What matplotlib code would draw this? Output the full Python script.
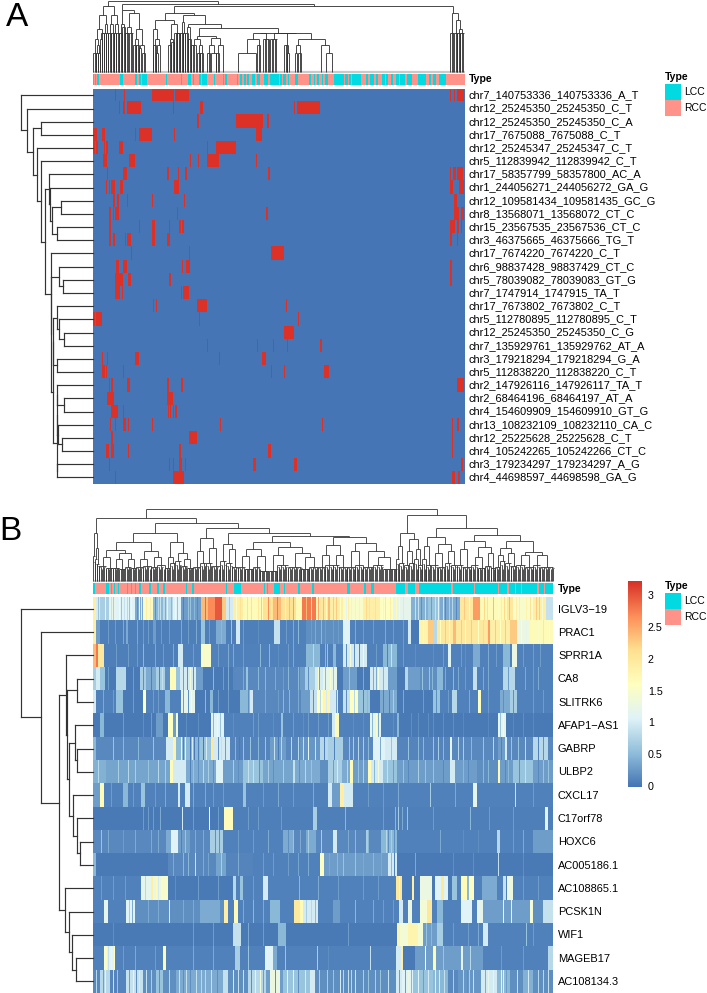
import numpy as np
import matplotlib
matplotlib.use("Agg")
import matplotlib.pyplot as plt
from matplotlib.collections import LineCollection
from matplotlib.colors import LinearSegmentedColormap, ListedColormap
from matplotlib.patches import Rectangle

plt.rcParams['font.family'] = ['Liberation Sans', 'DejaVu Sans']
W, H = 707, 993
TEAL, SALMON = '#00DAE0', '#FF9289'
BLUE, RED = '#4575B4', '#DC3127'

# ---------- panel A data ----------
labels_a = ["chr7_140753336_140753336_A_T", "chr12_25245350_25245350_C_T", "chr12_25245350_25245350_C_A",
            "chr17_7675088_7675088_C_T", "chr12_25245347_25245347_C_T", "chr5_112839942_112839942_C_T",
            "chr17_58357799_58357800_AC_A", "chr1_244056271_244056272_GA_G", "chr12_109581434_109581435_GC_G",
            "chr8_13568071_13568072_CT_C", "chr15_23567535_23567536_CT_C", "chr3_46375665_46375666_TG_T",
            "chr17_7674220_7674220_C_T", "chr6_98837428_98837429_CT_C", "chr5_78039082_78039083_GT_G",
            "chr7_1747914_1747915_TA_T", "chr17_7673802_7673802_C_T", "chr5_112780895_112780895_C_T",
            "chr12_25245350_25245350_C_G", "chr7_135929761_135929762_AT_A", "chr3_179218294_179218294_G_A",
            "chr5_112838220_112838220_C_T", "chr2_147926116_147926117_TA_T", "chr2_68464196_68464197_AT_A",
            "chr4_154609909_154609910_GT_G", "chr13_108232109_108232110_CA_C", "chr12_25225628_25225628_C_T",
            "chr4_105242265_105242266_CT_C", "chr3_179234297_179234297_A_G", "chr4_44698597_44698598_GA_G"]
mutated_a = [
    [(22,23),(31,32),(59,81),(82,96),(357,358),(361,362),(364,371)],
    [(26,27),(30,32),(34,48),(80,81),(107,110),(201,202),(204,227)],
    [(104,106),(143,170),(174,176)],
    [(0,4),(9,12),(42,43),(46,59),(81,82),(163,169)],
    [(0,2),(3,5),(11,12),(13,15),(26,30),(114,115),(123,143)],
    [(10,14),(36,42),(97,98),(105,106),(114,126),(163,164)],
    [(14,15),(30,34),(74,76),(85,86),(92,94),(175,177),(357,358),(360,363),(364,370)],
    [(13,14),(16,17),(18,22),(27,30),(81,86),(357,360),(366,371)],
    [(20,22),(24,26),(34,35),(59,60),(91,92),(361,364)],
    [(16,18),(20,21),(22,26),(84,85),(173,175),(361,366),(368,371)],
    [(16,18),(46,47),(59,62),(76,77),(86,88),(89,91),(357,362),(364,366),(368,369)],
    [(16,18),(20,22),(32,33),(34,38),(59,62),(74,77),(357,359),(364,365)],
    [(38,39),(96,97),(178,191)],
    [(23,26),(30,34),(89,90),(93,97),(357,359)],
    [(22,30),(35,38),(76,78),(357,359)],
    [(22,27),(29,30),(88,89),(90,96)],
    [(60,61),(63,64),(104,114),(193,194)],
    [(0,2),(3,9),(106,107),(205,206)],
    [(191,201)],
    [(114,115),(164,165),(180,181),(194,195),(227,229)],
    [(9,10),(14,15),(42,46),(126,127),(169,173)],
    [(9,12),(13,14),(30,31),(178,179),(191,192),(231,236)],
    [(16,17),(18,20),(34,37),(74,76),(88,90),(364,371)],
    [(14,21),(74,80)],
    [(18,25),(30,31),(75,76),(77,78),(80,81),(82,84)],
    [(17,18),(22,23),(30,33),(35,36),(59,60),(127,128),(229,230),(359,360),(364,366)],
    [(18,20),(96,104),(359,360)],
    [(13,16),(18,21),(35,36),(86,88),(175,178),(359,360)],
    [(16,17),(76,77),(80,81),(86,89),(92,93),(160,163),(201,204),(368,370)],
    [(22,23),(80,91),(359,362),(365,367)],
]
lcc_a = [(0,1),(2,3),(4,6),(27,30),(42,44),(46,48),(49,54),(73,74),(88,89),(95,97),(97,98),(100,101),(106,108),
         (109,114),(121,122),(130,131),(132,134),(144,145),(147,149),(151,153),(154,156),(159,162),(164,167),
         (171,175),(177,186),(187,189),(190,193),(195,196),(202,205),(216,218),(221,222),(224,226),(229,230),
         (232,235),(241,247),(247,251),(252,255),(256,258),(259,268),(273,275),(277,281),(283,285),(289,292),
         (293,295),(298,300),(303,306),(307,312),(314,319),(325,333),(336,338),(340,343),(346,353)]
# trees: (height, left, right[, position]); leaf = int; [first, last, height] = comb of leaves
row_tree_a = (72, 0, (66, 1, (60.6, (52.6, 2, 3), (56, 4, (52.3, 5, (48.3,
    (43.8, 6, (43.3, 7, (41.6, (32.3, 8, 9), (36, 10, 11)))),
    (42.6, 12, (42.3, (34, 13, (30, 14, 15)),
        (40.6, (40.3, (36, 16, (34, 17, (29, 18, 19))), (36, 20, 21)),
               (36.3, (36.2, (36.6, 22, (29, 23, 24)), (35, 25, (31.3, 26, 27))), (36.6, 28, 29)))))))))))
col_tree_a = (71,
    (65.6,
        (56.6, (43, (33, [0,3,19.3], (26.6,[3,5,19.3],[5,7,19.3])), (39.3,[7,9,33],[9,11,39.3])),
               (48, [11,13,39.3], [13,15,39.3])),
        (56.6, (48, [15,18,39.3], [18,21,39.3]), (48, [21,23,39.3], [23,26,39.3]))),
    (67.6,
        (62.3, (48, [26,29,39.3], [29,32,45]),
               (59, (45,[32,36,39.3],[36,40,39.3]),
                    (43, (33,[40,43,26.6],[43,46,26.6]), (26.6,[46,48,24],[49,52,19.3]))), 29),
        (65.6,
            (59,
                (52, (43, 60, (33,[60,63,26.6],(26.6,[63,65,19.3],67))),
                     (48, (33,[75,78,26.6],[78,81,30]), (39.3,[81,84,39.3],[84,87,39.3]))),
                (56.6, (50,[87,90,39.3],[90,92,39.3]),
                    (48, (45,[92,95,39.3],[95,98,33]),
                        (44,
                            (36, (33,[98,103,26.6],(26.6,[104,107,19.3],[107,110,19.3])),
                                 (34,(26.6,[114,117,19.3],(19.3,118,123)),(26.6,[123,126,19.3],130)), 106),
                            (39.3,
                                (39.3,(33,(19.3,145,163),[164,167,26.6]),[170,176,33]),
                                (39.3,(39,[177,184,33],(26.6,[191,194,26.6],[194,196,19.3])),
                                      (33,(26.6,[202,204,19.3],[205,208,19.3]),(26.6,228,(19.3,233,239))))),
                            128))), 81),
            (59, [357,361,39.3], (52, [361,364,39.3], (43, [364,367,39.3], [367,371,39.3])), 360))))

# ---------- panel B data ----------
labels_b = ["IGLV3\u221219", "PRAC1", "SPRR1A", "CA8", "SLITRK6", "AFAP1\u2212AS1", "GABRP", "ULBP2", "CXCL17",
            "C17orf78", "HOXC6", "AC005186.1", "AC108865.1", "PCSK1N", "WIF1", "MAGEB17", "AC108134.3"]
lcc_b = [(0,2),(13,16),(18,19),(21,22),(25,26),(34,35),(38,39),(42,43),(46,48),(56,58),(64,66),(70,72),(93,94),
         (99,101),(133,134),(141,148),(171,172),(174,175),(181,187),(191,192),(205,207),(219,221),(254,257),
         (271,273),(278,281),(303,312),(315,322),(326,358),(360,381),(382,405),(406,414),(416,422),(423,428),
         (429,444),(446,451),(452,460)]
runs_b = [
 [(0,1.9),(3,1.0),(7,.7),(16,1.2),(23,1.1),(42,.4),(50,1.5),(60,.5),(70,.8),(80,1.1),(88,.3),(108,2.4),(115,2.7),(122,3.0),(129,2.3),(133,1.0),(140,1.9),(150,1.7),(170,2.1),(180,2.4),(188,2.1),(203,1.7),(209,2.8),(223,1.8),(227,2.0),(235,2.4),(237,1.9),(250,1.5),(270,1.9),(287,1.6),(300,1.2),(318,.45),(335,.6),(347,.4),(367,2.0),(380,2.6),(387,1.7),(414,2.0),(420,1.5),(440,1.9),(453,.9)],
 [(0,1.9),(3,.3),(7,.08),(33,.4),(35,.08),(60,.3),(63,.08),(108,.6),(112,.08),(123,.4),(133,.08),(143,1.0),(147,.08),(181,.9),(187,.1),(213,.2),(250,1.1),(257,.1),(315,1.0),(318,.05),(326,1.8),(335,2.3),(340,.8),(344,2.0),(360,2.4),(363,2.0),(395,2.6),(397,1.9),(417,2.3),(424,1.3),(437,1.7)],
 [(0,2.4),(3,2.8),(5,2.0),(11,.08),(85,1.0),(90,.1),(108,1.5),(118,.1),(213,.5),(227,.1),(240,.5),(243,.1),(250,1.0),(274,.1),(290,.5),(304,.1),(355,1.1),(358,.1),(380,.4),(387,.1),(410,.5),(417,.1),(419,1.3),(424,.1)],
 [(0,.7),(3,1),(7,.6),(12,.05),(23,.8),(33,.05),(47,.7),(53,.4),(63,.7),(72,.2),(77,1.7),(83,.6),(87,1.0),(103,.3),(110,.05),(140,.15),(153,.6),(155,.15),(207,.3),(212,.7),(222,1),(230,1.2),(244,.05),(250,.3),(264,.05),(277,1),(295,.3),(304,.05),(312,.8),(315,.3),(327,.2),(344,.5),(350,.1),(380,.9),(384,.1),(410,.8),(422,.1)],
 [(0,1),(3,.1),(23,.6),(30,.05),(50,1.6),(53,.1),(72,.5),(77,.1),(88,1.2),(102,.05),(117,.5),(120,.05),(147,.5),(157,1),(160,.15),(208,.3),(217,.9),(224,1.6),(230,1.8),(237,1),(245,.1),(250,.9),(257,1.6),(265,.6),(277,.05),(287,.4),(304,.05),(340,.6),(347,.1),(359,.8),(364,.1),(385,1.6),(388,.1),(407,.4),(417,.7),(424,.1)],
 [(0,.05),(7,.5),(11,.05),(63,.3),(70,.05),(75,1.6),(80,.3),(83,1.4),(85,.05),(118,1.1),(131,.1),(188,.6),(190,.1),(239,1),(242,1.7),(246,.1),(277,1.2),(288,.1),(304,.5),(306,.05),(405,1.2),(413,.05)],
 [(0,.5),(3,.15),(73,1),(80,1.8),(83,.5),(107,.6),(118,2.0),(120,1),(137,.12),(177,.3),(193,.15),(207,.25),(227,.8),(235,.7),(250,.15),(280,1.1),(292,1),(304,.12),(357,1.2),(359,.15),(405,.3),(412,1.0),(414,.15),(440,.8),(455,.15)],
 [(0,.45),(13,.35),(77,1.7),(80,1),(93,.4),(123,1.1),(130,.3),(150,.6),(170,.35),(200,.9),(202,.4),(227,.2),(235,.7),(249,.4),(257,1.7),(260,.3),(275,1.7),(278,1),(290,.6),(304,.3),(357,1),(362,.3),(384,.2),(405,1.7),(407,.3),(420,.6),(440,.3)],
 [(0,.3),(7,1.7),(11,.1),(30,.5),(35,.1),(48,.6),(52,.1),(85,1),(87,.1),(92,1),(97,.1),(150,.6),(153,.1),(235,1),(239,.3),(247,1.9),(251,1),(260,.1),(380,1.2),(384,.1)],
 [(0,.05),(131,1.7),(140,.08),(220,.7),(224,.08),(452,1.1),(455,.08)],
 [(0,.15),(73,.4),(78,1.1),(85,.3),(97,.15),(117,.7),(130,.1),(190,.4),(200,.15),(213,.4),(223,.15),(240,1),(244,.15),(273,.7),(276,.15),(288,.5),(304,.1),(404,.8),(407,.1),(440,.3)],
 [(0,.5),(3,.05),(75,.15),(123,.35),(133,.12),(160,.1),(227,1.6),(231,.3),(295,1),(304,.05)],
 [(0,.1),(48,1.2),(58,1.9),(60,1.3),(68,1.5),(75,.05),(140,.8),(143,.1),(147,.6),(150,.1),(170,1),(175,.1),(303,2),(309,.05),(319,1.9),(321,.05),(327,1.3),(339,.05),(342,1.1),(348,2),(351,1.1),(355,.05),(359,.6),(364,.1),(368,1.7),(374,.5),(376,1.6),(381,.1),(389,.4),(404,.1),(410,.9),(413,.1),(414,1.3),(420,.1)],
 [(0,.1),(11,1.2),(15,.1),(33,1.1),(42,.2),(107,.4),(127,.2),(131,1.9),(135,.1),(141,1.7),(145,.1),(177,.5),(187,.1),(201,2),(207,1.7),(210,1),(225,.1),(240,.3),(247,.1),(306,1),(310,.1),(315,1.3),(319,.1),(327,1.4),(334,2),(339,.1),(344,.5),(350,.1),(368,1.1),(379,.1),(384,1.2),(390,.3),(437,1.4),(440,.2),(450,.9)],
 [(0,.05),(140,.9),(148,.05),(185,.5),(193,.05),(304,1.8),(307,1.4),(315,1.8),(325,1.4),(330,.3),(344,.7),(350,.1),(390,1),(395,.1)],
 [(0,.1),(11,1.5),(14,1.1),(21,1.6),(22,.1),(70,1.7),(73,.1),(142,.7),(147,.1),(172,1.8),(173,1.1),(180,.4),(184,.1),(303,1),(308,1.9),(310,.05),(322,.3),(332,1.6),(333,.3),(340,1.7),(343,.3),(368,1.2),(370,.3),(390,.1),(455,.8)],
 [(0,.15),(7,.8),(17,.12),(33,.9),(50,.2),(63,.6),(70,.2),(83,.4),(130,.9),(135,.2),(155,.8),(173,.3),(177,1.3),(187,.3),(190,.6),(217,1),(222,.2),(303,1),(309,1.1),(320,.6),(340,.5),(355,.15),(365,.25),(388,1),(404,.5),(417,.2),(430,.45),(440,.2)],
]
stripes_b = [
 [(5,.6),(12,1.2),(18,.9),(20,.7),(26,1.5),(28,.6),(31,.9),(34,.8),(36,.6),(38,1.5),(44,.2),(46,1.2),(48,1),(53,1.9),(57,1.9),(62,.2),(65,.8),(67,.9),(72,.4),(74,1.2),(78,.5),(82,1.4),(84,.6),(90,.1),(95,.6),(97,.6),(101,.5),(104,.15),(112,2.9),(136,.7),(143,1.5),(147,2.1),(154,2.1),(158,2.1),(162,1.5),(165,2.0),(168,2.3),(175,2.7),(178,2.0),(184,2.8),(192,1.8),(196,2.4),(200,2.6),(206,1.4),(213,2.4),(218,2.2),(225,2.5),(230,2.4),(233,1.7),(240,2.3),(243,2.3),(247,1.6),(253,1.2),(255,1.9),(258,1.8),(262,1.8),(266,1.2),(273,2.2),(276,2.1),(282,2.1),(290,1.3),(292,2.0),(297,1.9),(303,1.7),(306,1.7),(310,1.0),(322,.9),(325,.9),(328,.2),(332,.9),(338,.3),(342,.9),(345,1.1),(350,.9),(352,.15),(356,.7),(359,.8),(363,.15),(371,2.3),(376,1.7),(391,2.2),(394,2.1),(400,2.4),(405,1.6),(408,1.9),(411,2.2),(416,2.4),(423,1.9),(426,1.9),(433,1.8),(437,2.1),(443,2.3),(446,2.3),(449,1.4)],
 [(15,.3),(22,.3),(30,.4),(44,.4),(50,.3),(55,.3),(68,.3),(76,.3),(88,.4),(95,.3),(103,.4),(116,.3),(128,.5),(138,.6),(150,.3),(165,.2),(193,.3),(200,.4),(205,.5),(218,.3),(222,.4),(228,.5),(232,.3),(240,.3),(245,.3),(262,.4),(270,.3),(280,.3),(292,.4),(300,.3),(310,.3),(330,1.7),(347,1.6),(352,2.3),(356,1.7),(368,2.3),(372,1.7),(378,2.3),(385,1.6),(390,2.2),(402,2.3),(407,1.6),(412,2.3),(428,1.6),(433,1.2),(445,1.5),(450,2.0),(456,1.6)],
 [(23,.3),(35,.3),(44,.3),(50,.5),(62,.4),(70,.3),(80,.4),(100,.3),(125,.3),(135,.4),(140,.4),(150,.3),(167,.5),(176,.5),(185,.2),(195,.3),(200,.4),(220,.8),(232,.5),(234,.6),(253,.2),(257,1.4),(261,.2),(266,.1),(270,1.5),(283,.3),(294,.1),(298,.9),(310,.3),(322,.2),(340,.2),(350,.3),(368,.3),(372,.2),(395,.4),(403,.3),(430,.3),(440,.3),(447,.3)],
 [(15,.3),(40,.3),(50,.2),(58,.1),(66,.1),(69,.9),(90,.3),(94,.2),(97,1.4),(100,.2),(120,.5),(130,.3),(135,.4),(150,.4),(165,.5),(172,.5),(182,.4),(190,.3),(195,.5),(205,.5),(215,.2),(225,1.5),(226,.3),(232,.5),(237,1.5),(240,.6),(256,.6),(270,.4),(280,.4),(283,.4),(285,1.4),(290,.5),(329,.6),(336,.6),(339,.5),(352,.4),(360,.5),(365,.4),(372,.3),(390,.4),(395,.4),(415,.3),(432,.4),(440,.3),(445,.4)],
 [(10,.4),(20,.3),(40,.3),(60,.3),(65,.3),(90,.3),(95,.2),(98,1.6),(112,.5),(125,.3),(135,.3),(155,.2),(172,.4),(185,.3),(190,.5),(196,.5),(205,.4),(220,.2),(227,.8),(233,1.0),(243,.3),(253,.2),(261,.8),(270,.1),(274,.5),(290,.1),(296,.1),(300,.7),(310,.4),(330,.3),(343,.2),(355,.3),(376,.4),(395,.3),(410,.2),(420,.2),(440,.3),(450,.3)],
 [(30,.3),(50,.2),(58,.3),(93,.2),(105,.2),(120,.5),(124,1.4),(127,.6),(140,.2),(160,.3),(165,.3),(180,.2),(200,.3),(210,.2),(215,.3),(225,.3),(235,.3),(260,.2),(270,.2),(279,.5),(283,1.5),(285,.4),(300,.2),(318,.2),(325,.2),(335,.2),(340,.2),(350,.2),(360,.2),(370,.15),(395,.15),(407,.6),(410,1.5),(420,.15),(430,.2),(440,.15)],
 [(20,.6),(30,.5),(45,.5),(60,.6),(88,1.3),(90,.1),(92,1.1),(97,.05),(99,1.0),(101,.05),(105,.1),(110,.05),(113,1.0),(125,.2),(128,.9),(132,.3),(142,.5),(146,.05),(150,.6),(157,.6),(165,.5),(172,.6),(181,.9),(185,.05),(188,.8),(198,.8),(205,.8),(210,.9),(215,1.2),(222,.9),(231,.1),(241,.1),(256,.6),(260,.7),(265,.8),(270,.7),(275,.5),(287,.4),(298,.6),(315,.6),(325,.5),(330,.5),(340,.6),(345,.7),(350,.5),(365,.8),(370,.7),(378,.5),(390,.6),(400,.8),(408,.1),(418,.6),(425,.6),(432,.8),(445,.1),(450,.2)],
 [(5,.8),(25,.7),(35,.8),(42,.7),(55,.6),(65,.8),(72,.7),(97,.1),(100,.6),(105,.2),(110,.8),(115,.7),(120,.2),(140,.7),(145,.2),(155,.9),(160,.9),(166,.2),(175,.7),(180,.2),(190,.7),(206,.2),(212,.8),(218,.6),(240,.3),(244,1),(254,.8),(265,.6),(270,.7),(281,.5),(285,1.4),(294,.9),(300,.3),(310,.6),(315,.15),(325,.7),(332,.6),(340,.6),(350,.15),(370,.5),(375,.15),(390,.5),(395,.5),(412,.15),(415,.5),(426,.2),(432,.9),(445,.15),(450,.6),(455,.6)],
 [(18,.3),(40,.3),(62,.3),(72,.4),(100,.4),(112,.4),(120,.3),(130,.3),(170,.3),(185,.4),(200,.3),(220,.4),(275,.3),(290,.3),(305,.4),(337,.7),(362,.4),(422,.9),(440,.3)],
 [(50,.3),(55,.3),(60,.3),(67,.4),(89,1),(100,.3),(116,1.4),(125,.3),(155,.3),(165,.3),(188,.3),(252,.5),(290,.3),(302,.5),(305,.7),(309,.4),(314,.6),(340,.3),(377,.5),(396,.3),(420,.3)],
 [(8,.6),(15,.4),(30,.3),(42,.4),(58,.4),(65,.4),(88,.1),(92,.6),(102,.4),(110,.4),(122,.2),(126,.2),(145,.3),(160,.3),(175,.4),(195,.2),(200,.6),(207,.4),(215,.7),(228,.7),(255,.4),(262,.5),(275,.5),(293,.8),(295,.2),(298,.7),(301,.2),(347,.4),(370,.2),(385,.2),(420,.3),(430,.4)],
 [(80,.4),(90,.5),(95,.5),(102,.9),(110,.4),(115,.35),(128,.7),(145,.4),(170,.3),(180,.3),(195,.3),(205,.35),(215,.4),(236,.4),(244,.5),(250,.6),(262,.6),(270,.4),(280,.5),(288,.4),(298,.5),(301,.1),(322,.4),(360,.2),(380,.2),(405,.9),(430,.2)],
 [(8,.3),(20,.3),(32,.3),(52,.8),(63,1.7),(65,1.0),(82,.2),(105,.3),(125,.3),(160,.3),(206,.5),(225,.4),(245,.3),(270,.3),(285,.3),(306,1.5),(430,.3),(445,.3)],
 [(36,.7),(39,.4),(55,.4),(65,.4),(76,1),(90,.4),(100,.4),(150,.4),(160,.5),(170,.4),(213,.7),(218,.8),(222,.5),(262,.5),(280,.4),(290,.3),(300,.3),(410,1.3),(418,1.1),(425,.3)],
 [(20,.2),(100,.3),(120,.3),(155,.4),(170,.3),(255,.3),(333,.6),(338,.5),(360,.3),(375,.3),(385,.4),(433,.6),(440,.3)],
 [(15,.9),(18,1.3),(30,.3),(42,.4),(62,.3),(100,.4),(120,.4),(155,.6),(192,.6),(224,.7),(235,.2),(277,.9),(350,.6),(377,.8),(408,.3),(430,.3)],
 [(3,.8),(10,.3),(12,1.1),(20,.9),(24,.6),(36,.3),(40,1.2),(43,.2),(46,1.0),(53,.9),(58,.7),(66,.2),(76,.8),(86,.9),(90,.2),(93,.9),(97,.2),(103,.9),(108,.8),(112,.8),(118,.9),(124,.2),(140,1),(145,.9),(150,.9),(158,.2),(162,1.2),(167,1.4),(170,.3),(182,.2),(194,1.1),(200,1.2),(205,.2),(212,1),(226,.7),(234,.7),(240,.6),(247,1.0),(250,.8),(255,.9),(258,.8),(262,.9),(270,.7),(275,.6),(282,.7),(287,.6),(295,.9),(306,.3),(312,.3),(315,1.3),(318,.5),(325,1.1),(330,.3),(335,1),(342,1.9),(346,1),(351,.9),(360,.7),(370,.8),(374,.2),(376,.7),(380,.9),(392,.4),(395,1.2),(400,1.2),(408,1.2),(410,1.1),(413,.3),(424,.9),(435,1),(445,.8),(450,.8),(455,.9)],
]
row_tree_b = (72, 0, (52.6, 1, (34.6,
    (27.6, 2, (26, (16, 3, 4),
        (24, (18.6, 5, (16, 6, 7)), (20, 8, (16, 9, (13, 10, 11)))))),
    (28, 12, (24.6, 13, (21.6, 14, (17.6, 15, 16)))))))
col_tree_b = (71.7,
  (62.7,
    (47.7, [0,2,25], (33,[2,4,22],[4,6,17])),
    (58,
      (47.7,
        (39.3,
          (31, (24,[6,13,15],[13,20,13]), (28,(22,[20,26,13],[26,32,12]),(22,[32,38,14],[38,43,13]))),
          (30, (22,[43,50,14],[50,58,15]), (24,[58,64,14],[64,72,16]))),
        (39.3, (24,[72,77,13],[77,82,18]), (28,[82,88,20],(22,[88,94,15],[94,100,13])))),
      (52.7,
        (42.7, (30,[100,107,14],[107,113,18]), (33,[113,119,18],[119,127,15])),
        (47.7,
          (37, [127,133,20], (32,[133,139,18],[139,145,14])),
          (45.3,
            (39.3,
              (32,(25,[145,152,14],[152,160,12]),(25,[160,167,14],[167,176,10])),
              (34,(26,[176,184,10],[184,195,16]),(28,[195,208,14],(24,[208,216,12],[216,225,14])))),
            (44.3,
              (36,(26,[225,232,14],[232,240,16]),(26,[240,246,16],[246,254,14])),
              (38,(30,[254,262,14],[262,270,16]),(30,[270,280,14],(24,[280,290,16],[290,303,12]))))))))),
  (66,
    (47.7, (35,[303,306,22],[306,311,18]), (42,(30,[311,316,16],[316,321,18]),(32,[321,325,22],[325,329,16]))),
    (52.7,
      (44.3, (35,[329,333,22],[333,338,16]), (37,(28,[338,345,16],[345,352,14]),(30,[352,358,18],[358,364,16]))),
      (46,
        (40.3,(32,[364,370,16],[370,378,14]),(34,(24,[378,385,16],[385,392,13]),(28,[392,398,15],[398,402,13]))),
        (40.3,(33,(26,[402,407,14],[407,412,20]),(28,[412,418,18],[418,423,15])),
              (29,(26,[423,432,16],[432,440,14]),(26,[440,447,16],[447,460,14])))))))
cbar_ticks = [0, 0.5, 1, 1.5, 2, 2.5, 3]
cbar_max = 3.24
legend_types = ["LCC", "RCC"]

# ---------- helpers ----------
fig = plt.figure(figsize=(W/100, H/100), dpi=100)
def ax_px(x0, y0, x1, y1):
    a = fig.add_axes([x0/W, 1-y1/H, (x1-x0)/W, (y1-y0)/H])
    a.set_axis_off()
    return a
def ftext(x, y, s, **kw):
    fig.text(x/W, 1-y/H, s, va=kw.pop('va', 'center'), ha=kw.pop('ha', 'left'), **kw)
def tree_segments(node, segs, step, cap=None):
    if isinstance(node, (int, np.integer)):
        return float(node), 0.0
    if isinstance(node, list):
        c0, c1, h = node
        for i, c in enumerate(np.arange(c0, c1 + 1e-6, step)):
            if cap is None or i % 3 == 0:
                top = h
            elif i % 3 == 1:
                top = min(h, cap + (h - cap) * 0.5)
                segs.append([(c - 0.6, top), (c + 0.8, top)])
            else:
                top = min(h, cap)
            segs.append([(c, 0), (c, top)])
        segs.append([(c0, h), (c1, h)])
        return (c0 + c1) / 2, h
    h, a, b = node[:3]
    pa, ha = tree_segments(a, segs, step, cap)
    pb, hb = tree_segments(b, segs, step, cap)
    segs += [[(pa, ha), (pa, h)], [(pb, hb), (pb, h)], [(pa, h), (pb, h)]]
    return (node[3] if len(node) > 3 else (pa + pb) / 2), h
def draw_col_tree(box, tree, n, step, lw, color, cap=None):
    a = ax_px(*box)
    a.set_xlim(0, n); a.set_ylim(0, box[3]-box[1])
    segs = []
    tree_segments(tree, segs, step, cap)
    a.plot([0, n], [0, 0], color='#c9c9c9', lw=1.6, solid_capstyle='butt', clip_on=False)
    a.add_collection(LineCollection(segs, colors=color, linewidths=lw, capstyle='butt', clip_on=False))
def draw_row_tree(box, tree, nrows, lw=0.85, color='#333333'):
    a = ax_px(*box)
    a.set_xlim(box[2]-box[0], 0); a.set_ylim(nrows-0.5, -0.5)
    segs = []
    tree_segments(tree, segs, 1)
    segs = [[(p[1], p[0]) for p in s] for s in segs]
    a.add_collection(LineCollection(segs, colors=color, linewidths=lw, capstyle='projecting', clip_on=False))
def draw_type_bar(box, intervals, n):
    a = ax_px(*box)
    v = np.ones((1, n), int)
    for s, e in intervals:
        v[0, s:e] = 0
    a.imshow(v, aspect='auto', cmap=ListedColormap([TEAL, SALMON]), vmin=0, vmax=1, interpolation='nearest')
def draw_legend(x, y_title, y0):
    ftext(x, y_title, "Type", fontsize=7.6, fontweight='bold')
    for i, (name, col) in enumerate(zip(legend_types, [TEAL, SALMON])):
        fig.add_artist(Rectangle((x/W, 1-(y0+16*(i+1))/H), 16/W, 16/H, transform=fig.transFigure, fc=col, ec='none'))
        ftext(x+19, y0+8+16*i, name, fontsize=7.5)

# ---------- panel A ----------
n_a = 372
mat_a = np.zeros((len(labels_a), n_a))
for r, segs_r in enumerate(mutated_a):
    for s, e in segs_r:
        mat_a[r, s:e] = 1
ax = ax_px(93.3, 88.8, 465, 484)
ax.imshow(mat_a, aspect='auto', cmap=ListedColormap([BLUE, RED]), vmin=0, vmax=1, interpolation='nearest')
draw_type_bar((93.3, 73.5, 465, 85), lcc_a, n_a)
draw_col_tree((93.3, 0, 465, 72), col_tree_a, n_a, 1.5, 0.62, '#303030')
draw_row_tree((20, 88.8, 93.3, 484), row_tree_a, len(labels_a))
rh = (484-88.8)/len(labels_a)
for i, s in enumerate(labels_a):
    ftext(468.7, 88.8+rh*(i+.5), s, fontsize=7.9)
ftext(468.7, 79.5, "Type", fontsize=7.6, fontweight='bold')
draw_legend(665, 76.5, 83.7)
ftext(6, 17, "A", fontsize=24)

# ---------- panel B ----------
n_b = 460
mat_b = np.zeros((len(labels_b), n_b))
for r, (runs, stripes) in enumerate(zip(runs_b, stripes_b)):
    for j, (s, v) in enumerate(runs):
        e = runs[j+1][0] if j+1 < len(runs) else n_b
        mat_b[r, s:e] = v
    for c, v in stripes:
        mat_b[r, c:c+1] = v
cmap_b = LinearSegmentedColormap.from_list('rdylbu', ['#4575B4', '#91BFDB', '#E0F3F8', '#FFFFBF', '#FEE090', '#FC8D59', '#D73027'])
ax = ax_px(93.3, 597.3, 553.3, 993.0)
ax.imshow(mat_b, aspect='auto', cmap=cmap_b, vmin=0, vmax=cbar_max, interpolation='nearest')
draw_type_bar((93.3, 582.7, 553.3, 594), lcc_b, n_b)
draw_col_tree((93.3, 509, 553.3, 581), col_tree_b, n_b, 1.3, 0.62, '#383838', cap=12.5)
draw_row_tree((20, 597.3, 93.3, 993.0), row_tree_b, len(labels_b))
rh = (993.0-597.3)/len(labels_b)
for i, s in enumerate(labels_b):
    ftext(558, 597.9+rh*(i+.5), s, fontsize=7.9)
ftext(558, 588.5, "Type", fontsize=7.6, fontweight='bold')
draw_legend(665, 586, 593)
ftext(-1, 531, "B", fontsize=24)

cax = ax_px(628.3, 581, 642, 787)
cax.imshow(np.linspace(cbar_max, 0, 256)[:, None], aspect='auto', cmap=cmap_b, vmin=0, vmax=cbar_max,
           extent=[0, 1, 0, cbar_max], interpolation='bilinear')
for t in cbar_ticks:
    cax.text(1.43, t, f"{t:g}", fontsize=7.7, va='center', ha='left', transform=cax.get_yaxis_transform())

fig.savefig('out.png', dpi=100)
